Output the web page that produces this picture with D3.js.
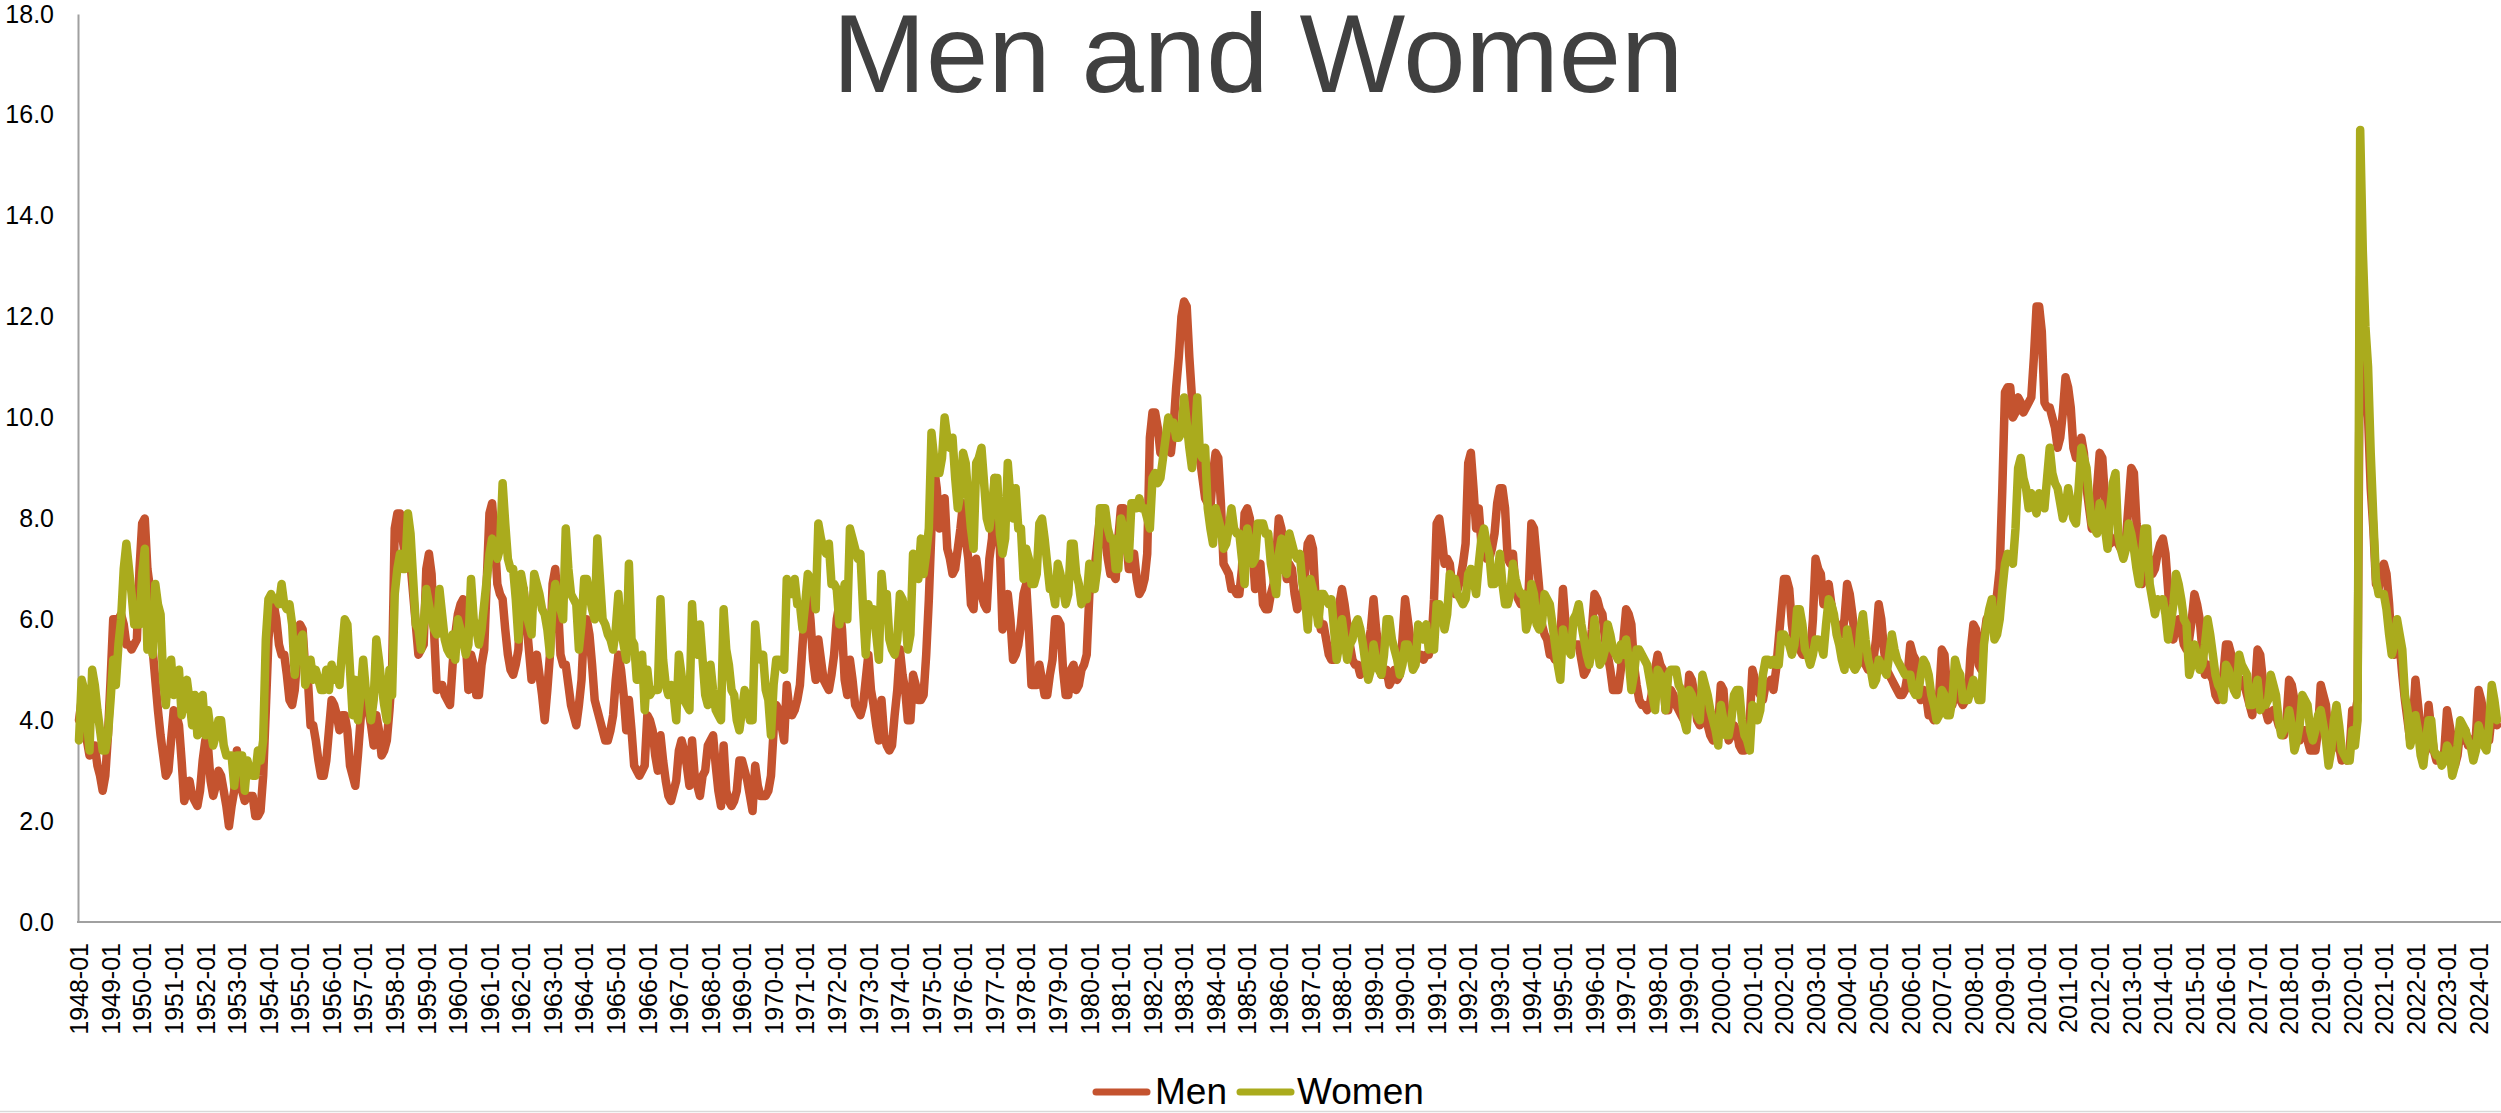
<!DOCTYPE html>
<html>
<head>
<meta charset="utf-8">
<script src="https://cdn.jsdelivr.net/npm/d3@7"></script>
<style>
  html, body { margin: 0; padding: 0; background: #fff; }
  svg { display: block; font-family: "Liberation Sans", Arial, sans-serif; }
</style>
</head>
<body>
<div id="chart"></div>
<script>
// monthly rates, one row per year, starting 1948-01
const menRate = [
  4.0, 4.4, 4.1, 3.6, 3.3, 3.5, 3.5, 3.1, 2.9, 2.6, 2.9, 3.7,   // 1948
  4.8, 6.0, 6.0, 6.0, 6.1, 5.9, 5.5, 5.5, 5.4, 5.5, 5.6, 7.0,
  7.9, 8.0, 7.0, 6.6, 5.4, 4.8, 4.2, 3.7, 3.3, 2.9, 3.0, 3.6,   // 1950
  4.2, 4.1, 3.9, 3.2, 2.4, 2.6, 2.8, 2.5, 2.4, 2.3, 2.6, 3.2,
  3.6, 3.5, 2.8, 2.5, 2.7, 3.0, 2.9, 2.6, 2.3, 1.9, 2.3, 2.6,
  3.4, 2.9, 2.6, 2.4, 2.5, 2.5, 2.5, 2.1, 2.1, 2.2, 2.9, 4.2,
  5.6, 6.3, 6.3, 6.0, 5.5, 5.3, 5.3, 4.9, 4.4, 4.3, 4.6, 5.3,
  5.9, 5.8, 5.0, 4.8, 3.9, 3.9, 3.6, 3.2, 2.9, 2.9, 3.2, 3.8,   // 1955
  4.4, 4.3, 4.1, 3.8, 4.1, 4.1, 3.8, 3.1, 2.9, 2.7, 3.3, 4.0,
  4.6, 4.6, 4.2, 3.9, 3.5, 4.1, 3.8, 3.3, 3.4, 3.6, 4.2, 5.0,
  7.8, 8.1, 8.1, 7.6, 7.2, 7.1, 7.1, 6.5, 5.9, 5.3, 5.4, 5.5,
  7.0, 7.3, 6.9, 5.7, 4.6, 4.7, 4.7, 4.5, 4.4, 4.3, 5.1, 5.7,
  6.1, 6.3, 6.4, 5.6, 4.6, 5.3, 5.1, 4.5, 4.5, 5.1, 5.4, 6.8,   // 1960
  8.1, 8.3, 7.6, 6.7, 6.5, 6.4, 5.8, 5.3, 5.0, 4.9, 5.1, 5.4,
  6.6, 6.6, 6.0, 5.4, 4.8, 5.2, 5.3, 4.9, 4.5, 4.0, 4.6, 5.3,
  6.7, 7.0, 6.3, 5.3, 5.1, 5.1, 4.7, 4.3, 4.1, 3.9, 4.3, 4.8,
  5.9, 6.0, 5.7, 5.1, 4.4, 4.2, 4.0, 3.8, 3.6, 3.6, 3.8, 4.1,
  4.8, 5.3, 5.0, 4.5, 3.8, 4.4, 3.8, 3.1, 3.0, 2.9, 3.0, 3.1,   // 1965
  4.1, 4.0, 3.8, 3.3, 3.0, 3.7, 3.2, 2.8, 2.5, 2.4, 2.6, 2.8,
  3.4, 3.6, 3.4, 3.1, 2.7, 3.6, 2.9, 2.7, 2.5, 2.9, 3.0, 3.5,
  3.6, 3.7, 3.1, 2.6, 2.3, 3.5, 2.6, 2.4, 2.3, 2.4, 2.6, 3.2,
  3.2, 3.0, 2.8, 2.5, 2.2, 3.1, 2.7, 2.5, 2.5, 2.5, 2.6, 2.9,
  3.8, 4.3, 4.2, 3.9, 3.6, 4.7, 4.2, 4.1, 4.2, 4.4, 4.7, 5.5,   // 1970
  6.2, 6.5, 6.0, 5.2, 4.8, 5.6, 5.2, 4.8, 4.7, 4.6, 4.9, 5.3,
  6.0, 6.3, 5.8, 4.8, 4.5, 5.2, 4.8, 4.3, 4.2, 4.1, 4.3, 4.8,
  5.3, 4.6, 4.3, 3.9, 3.6, 4.4, 3.7, 3.5, 3.4, 3.5, 4.1, 4.6,
  5.4, 4.9, 4.6, 4.0, 4.0, 4.9, 4.7, 4.4, 4.4, 4.5, 5.3, 6.4,
  7.8, 9.0, 8.6, 7.8, 7.9, 8.4, 7.4, 7.2, 6.9, 7.0, 7.4, 7.8,   // 1975
  8.3, 7.6, 7.2, 6.3, 6.2, 7.2, 6.8, 6.5, 6.3, 6.2, 7.2, 7.6,
  8.8, 8.0, 7.4, 5.8, 6.0, 6.5, 6.0, 5.2, 5.3, 5.5, 5.9, 6.5,
  6.7, 5.8, 4.7, 4.7, 4.7, 5.1, 4.8, 4.5, 4.5, 4.9, 5.2, 6.0,
  6.0, 5.9, 5.0, 4.5, 4.5, 5.0, 5.1, 4.6, 4.7, 5.0, 5.1, 5.3,
  6.5, 6.8, 7.0, 7.5, 8.0, 7.9, 7.6, 7.2, 6.9, 6.9, 6.8, 7.6,   // 1980
  8.2, 8.2, 7.6, 7.0, 7.0, 7.3, 6.8, 6.5, 6.6, 6.8, 7.3, 9.6,
  10.1, 10.1, 9.8, 9.3, 9.4, 9.6, 9.5, 9.3, 9.8, 10.6, 11.2, 12.0,
  12.3, 12.2, 11.2, 10.4, 9.8, 9.7, 9.2, 8.8, 8.4, 8.3, 8.2, 8.9,
  9.3, 9.2, 8.3, 7.1, 7.0, 6.9, 6.6, 6.6, 6.5, 6.5, 7.0, 8.1,
  8.2, 8.0, 7.4, 6.6, 6.9, 7.1, 6.3, 6.2, 6.2, 6.5, 6.7, 7.2,   // 1985
  8.0, 7.8, 7.4, 6.8, 7.1, 7.0, 6.5, 6.2, 6.3, 6.5, 6.9, 7.5,
  7.6, 7.4, 6.4, 6.1, 5.8, 5.9, 5.6, 5.3, 5.2, 5.2, 5.6, 6.3,
  6.6, 6.3, 5.9, 5.5, 5.2, 5.1, 5.1, 4.9, 5.0, 5.1, 5.5, 5.8,
  6.4, 5.8, 5.4, 4.9, 4.9, 5.0, 4.7, 4.8, 5.0, 4.8, 4.9, 5.6,
  6.4, 6.0, 5.6, 5.4, 5.3, 5.3, 5.3, 5.2, 5.3, 5.3, 5.5, 6.4,   // 1990
  7.9, 8.0, 7.6, 7.1, 7.2, 7.1, 6.6, 6.5, 6.6, 6.8, 7.1, 7.5,
  9.1, 9.3, 8.6, 7.8, 8.2, 7.5, 7.3, 7.2, 7.2, 7.4, 7.7, 8.3,
  8.6, 8.6, 8.2, 7.2, 7.1, 7.3, 6.6, 6.4, 6.3, 6.3, 6.3, 6.6,
  7.9, 7.8, 7.2, 6.6, 5.9, 5.7, 5.6, 5.3, 5.3, 5.2, 5.3, 5.6,
  6.6, 5.9, 5.7, 5.5, 5.5, 5.5, 5.5, 5.2, 4.9, 5.0, 5.3, 5.8,   // 1995
  6.5, 6.4, 6.2, 6.1, 5.6, 5.3, 5.0, 4.6, 4.6, 4.6, 5.0, 5.6,
  6.2, 6.1, 5.9, 5.1, 4.7, 4.4, 4.3, 4.3, 4.2, 4.3, 4.6, 5.0,
  5.3, 5.1, 5.0, 4.2, 4.2, 4.6, 4.5, 4.3, 4.2, 4.1, 4.0, 4.2,
  4.9, 4.8, 4.5, 4.0, 3.9, 4.3, 4.1, 3.9, 3.7, 3.6, 3.7, 3.9,
  4.7, 4.6, 3.9, 3.6, 3.7, 3.9, 3.8, 3.5, 3.4, 3.4, 3.6, 4.0,   // 2000
  5.0, 4.8, 4.6, 4.5, 4.4, 4.7, 4.7, 4.8, 4.6, 5.0, 5.6, 6.2,
  6.8, 6.8, 6.6, 5.9, 5.5, 5.8, 5.4, 5.3, 5.3, 5.3, 5.3, 6.0,
  7.2, 7.0, 6.9, 6.3, 6.5, 6.7, 6.3, 6.0, 5.9, 5.8, 5.7, 6.0,
  6.7, 6.5, 6.1, 5.6, 5.1, 5.3, 5.2, 5.1, 5.0, 5.1, 5.2, 5.6,
  6.3, 6.0, 5.4, 5.0, 4.9, 4.8, 4.7, 4.6, 4.5, 4.5, 4.6, 4.9,   // 2005
  5.5, 5.3, 5.2, 4.6, 4.4, 4.6, 4.5, 4.1, 4.1, 4.0, 4.2, 4.5,
  5.4, 5.3, 4.6, 4.4, 4.3, 4.6, 4.6, 4.4, 4.3, 4.4, 4.5, 5.4,
  5.9, 5.8, 5.1, 5.0, 5.6, 6.0, 6.1, 5.9, 6.1, 6.5, 7.0, 8.6,
  10.5, 10.6, 10.6, 10.0, 10.1, 10.4, 10.3, 10.1, 10.2, 10.3, 10.4, 11.2,
  12.2, 12.2, 11.7, 10.3, 10.2, 10.2, 10.0, 9.8, 9.4, 9.6, 10.1, 10.8,   // 2010
  10.6, 10.2, 9.4, 9.2, 9.4, 9.6, 9.3, 8.6, 8.2, 7.8, 8.0, 8.6,
  9.3, 9.2, 8.4, 7.9, 7.5, 7.6, 7.6, 7.5, 7.4, 7.3, 7.6, 8.3,
  9.0, 8.9, 7.9, 7.3, 6.7, 7.0, 7.1, 7.2, 6.9, 7.0, 7.3, 7.5,
  7.6, 7.3, 6.6, 5.8, 5.6, 5.9, 6.0, 5.8, 5.5, 5.4, 5.6, 6.0,
  6.5, 6.3, 6.0, 5.4, 4.9, 5.1, 4.9, 4.8, 4.5, 4.4, 4.6, 4.9,   // 2015
  5.5, 5.5, 5.3, 4.8, 4.6, 4.7, 4.8, 4.7, 4.5, 4.3, 4.1, 4.6,
  5.4, 5.3, 4.8, 4.2, 4.0, 4.1, 4.2, 4.1, 3.9, 3.8, 3.7, 4.0,
  4.8, 4.7, 4.4, 3.9, 3.6, 3.8, 3.8, 3.6, 3.4, 3.4, 3.4, 3.8,
  4.7, 4.5, 4.3, 3.6, 3.4, 3.5, 3.6, 3.5, 3.2, 3.3, 3.2, 3.4,
  4.2, 4.1, 4.4, 12.8, 12.0, 10.6, 10.0, 8.6, 7.8, 6.7, 6.6, 7.0,   // 2020
  7.1, 6.9, 6.3, 5.4, 5.3, 5.6, 5.5, 4.9, 4.4, 4.0, 3.6, 3.9,
  4.8, 4.3, 3.8, 3.3, 3.4, 4.3, 3.8, 3.4, 3.2, 3.2, 3.2, 3.4,
  4.2, 3.9, 3.6, 3.1, 3.3, 3.8, 3.6, 3.8, 3.5, 3.6, 3.6, 3.7,
  4.6, 4.4, 4.1, 3.6, 3.6, 4.1, 4.0, 3.9                         // 2024
]

const womenRate = [
  3.6, 4.8, 4.6, 4.0, 3.4, 5.0, 4.7, 4.2, 3.8, 3.4, 3.4, 3.7,   // 1948
  4.4, 5.2, 4.7, 5.5, 6.0, 7.0, 7.5, 7.0, 6.5, 5.9, 5.9, 5.9,
  6.9, 7.4, 5.4, 5.9, 5.3, 6.7, 6.3, 6.1, 4.8, 4.3, 5.0, 5.2,   // 1950
  4.5, 4.7, 5.0, 4.1, 4.4, 4.8, 4.4, 3.9, 4.5, 3.7, 4.0, 4.5,
  3.7, 4.2, 3.8, 3.5, 3.7, 4.0, 4.0, 3.5, 3.3, 3.3, 3.3, 2.7,
  3.3, 3.3, 3.3, 2.6, 3.2, 3.0, 2.9, 2.9, 3.4, 3.2, 3.6, 5.6,
  6.4, 6.5, 6.4, 6.4, 6.3, 6.7, 6.3, 6.2, 6.3, 5.9, 4.9, 5.5,
  5.6, 5.7, 4.7, 4.9, 5.2, 4.8, 5.0, 4.8, 4.6, 4.6, 5.0, 4.6,   // 1955
  5.1, 4.8, 5.0, 4.7, 5.4, 6.0, 5.9, 5.0, 4.1, 4.8, 4.0, 4.5,
  5.2, 4.6, 4.5, 4.0, 4.4, 5.6, 5.2, 4.7, 4.3, 4.0, 5.0, 4.5,
  6.5, 7.0, 7.3, 7.0, 7.0, 8.1, 7.7, 6.8, 5.9, 5.8, 5.4, 5.9,
  6.6, 6.3, 6.0, 5.8, 5.7, 6.6, 6.1, 5.6, 5.4, 5.3, 5.7, 5.2,
  6.0, 5.8, 5.6, 5.3, 5.5, 6.8, 6.0, 5.8, 5.5, 5.8, 6.3, 6.8,   // 1960
  7.3, 7.6, 7.4, 7.2, 7.4, 8.7, 7.9, 7.2, 7.0, 7.0, 6.4, 5.6,
  6.9, 6.6, 6.1, 5.9, 5.7, 6.9, 6.7, 6.5, 6.2, 6.1, 5.8, 5.3,
  6.3, 6.7, 6.4, 6.2, 6.0, 7.8, 7.0, 6.5, 6.4, 6.3, 5.4, 5.9,
  6.8, 6.8, 6.5, 6.2, 6.0, 7.6, 6.8, 6.0, 5.9, 5.7, 5.6, 5.4,
  5.8, 6.5, 5.8, 5.5, 5.2, 7.1, 5.6, 5.5, 4.8, 5.0, 5.3, 4.2,   // 1965
  5.0, 4.5, 4.6, 4.6, 4.6, 6.4, 5.2, 4.7, 4.5, 4.7, 4.5, 4.0,
  5.3, 4.9, 4.4, 4.3, 4.2, 6.3, 5.4, 5.3, 5.9, 5.2, 4.5, 4.3,
  5.1, 4.6, 4.2, 4.1, 4.0, 6.2, 5.4, 5.1, 4.6, 4.5, 4.0, 3.8,
  4.2, 4.6, 4.4, 4.0, 4.0, 5.9, 5.3, 5.2, 5.3, 4.6, 4.4, 3.7,
  4.7, 5.2, 5.2, 5.1, 5.0, 6.8, 6.6, 6.5, 6.8, 6.3, 6.3, 5.8,   // 1970
  6.3, 6.9, 6.8, 6.8, 6.2, 7.9, 7.6, 7.4, 7.3, 7.5, 6.7, 6.7,
  6.6, 5.9, 6.3, 6.7, 6.0, 7.8, 7.6, 7.4, 7.2, 7.3, 6.2, 5.3,
  6.3, 6.1, 6.2, 5.7, 5.2, 6.9, 6.3, 6.5, 5.6, 5.4, 5.3, 5.6,
  6.5, 6.4, 6.1, 5.4, 5.7, 7.3, 7.1, 6.8, 7.6, 6.9, 7.3, 7.8,
  9.7, 9.2, 8.9, 8.9, 9.2, 10.0, 9.6, 9.4, 9.6, 8.8, 8.2, 8.5,  // 1975
  9.3, 9.1, 8.4, 7.8, 7.4, 9.1, 9.2, 9.4, 8.7, 8.0, 7.8, 8.2,
  8.8, 8.8, 7.7, 7.3, 7.6, 9.1, 8.4, 8.0, 8.6, 7.8, 7.8, 6.8,
  7.4, 7.2, 6.7, 6.7, 6.9, 7.9, 8.0, 7.6, 7.1, 6.6, 6.6, 6.3,
  7.1, 6.9, 6.6, 6.3, 6.5, 7.5, 7.5, 6.9, 6.7, 6.3, 6.5, 6.4,
  7.1, 7.0, 6.6, 7.0, 8.2, 8.2, 8.2, 7.8, 7.6, 7.6, 7.0, 7.0,   // 1980
  8.0, 7.8, 7.5, 7.2, 8.3, 8.3, 8.2, 8.4, 8.2, 8.2, 8.0, 7.8,
  8.8, 8.9, 8.7, 8.8, 9.2, 9.6, 10.0, 9.8, 9.9, 9.6, 9.6, 9.7,
  10.4, 9.9, 9.4, 9.0, 9.5, 10.4, 9.3, 9.2, 9.4, 8.2, 7.8, 7.5,
  8.2, 8.0, 7.8, 7.4, 7.5, 7.8, 8.2, 7.8, 7.7, 7.7, 7.2, 6.7,
  7.8, 7.5, 7.1, 7.2, 7.9, 7.9, 7.9, 7.7, 7.7, 7.1, 6.8, 6.5,   // 1985
  7.3, 7.6, 7.0, 6.9, 7.7, 7.5, 7.3, 7.2, 7.3, 6.7, 6.4, 5.8,
  6.8, 6.6, 6.3, 5.9, 6.5, 6.5, 6.4, 6.3, 6.4, 5.8, 5.2, 5.5,
  6.0, 5.6, 5.2, 5.5, 5.6, 5.9, 6.0, 5.8, 5.5, 5.1, 4.8, 5.0,
  5.5, 5.2, 5.0, 4.9, 5.3, 6.0, 6.0, 5.6, 5.4, 5.2, 4.9, 5.1,
  5.5, 5.5, 5.3, 5.0, 5.1, 5.9, 5.8, 5.6, 5.9, 5.4, 5.6, 5.4,   // 1990
  6.3, 6.3, 6.1, 5.8, 6.1, 6.9, 6.8, 6.8, 6.5, 6.4, 6.3, 6.4,
  6.9, 7.0, 6.8, 6.5, 7.1, 7.6, 7.8, 7.5, 7.3, 6.7, 6.7, 6.8,
  7.3, 6.7, 6.3, 6.3, 6.5, 7.1, 6.8, 6.6, 6.5, 6.5, 5.8, 6.0,
  6.7, 6.5, 5.9, 5.8, 5.9, 6.5, 6.4, 6.3, 5.9, 5.5, 5.1, 4.8,
  5.8, 5.5, 5.4, 5.3, 6.0, 6.1, 6.3, 5.9, 5.6, 5.3, 5.1, 5.4,   // 1995
  6.0, 5.5, 5.1, 5.2, 5.4, 5.9, 5.7, 5.4, 5.3, 5.2, 5.5, 5.3,
  5.6, 5.2, 4.6, 4.9, 5.4, 5.4, 5.3, 5.2, 5.1, 4.8, 4.5, 4.2,
  5.0, 4.9, 4.8, 4.2, 4.9, 5.0, 5.0, 5.0, 4.7, 4.6, 4.0, 3.8,
  4.6, 4.5, 4.3, 4.1, 4.0, 4.9, 4.7, 4.5, 4.2, 4.0, 3.8, 3.5,
  4.3, 4.0, 3.7, 3.7, 4.0, 4.5, 4.6, 4.6, 4.0, 3.7, 3.6, 3.4,   // 2000
  4.3, 4.2, 4.0, 4.2, 4.9, 5.2, 5.2, 5.1, 5.2, 5.1, 5.1, 5.7,
  5.7, 5.6, 5.5, 5.3, 5.5, 6.2, 6.2, 5.9, 5.4, 5.3, 5.1, 5.3,
  5.6, 5.6, 5.5, 5.3, 5.9, 6.4, 6.3, 6.1, 5.7, 5.5, 5.2, 5.0,
  5.8, 5.5, 5.1, 5.0, 5.1, 5.8, 6.1, 5.6, 5.2, 5.0, 4.7, 4.8,
  5.2, 5.1, 5.0, 4.9, 5.3, 5.7, 5.4, 5.2, 5.1, 5.0, 4.9, 4.9,   // 2005
  4.9, 4.6, 4.5, 4.5, 4.9, 5.2, 5.1, 4.9, 4.5, 4.3, 4.0, 4.1,
  4.6, 4.5, 4.1, 4.1, 4.4, 5.2, 5.0, 4.9, 4.4, 4.4, 4.4, 4.6,
  4.8, 4.6, 4.4, 4.4, 5.5, 5.9, 6.2, 6.4, 5.6, 5.7, 6.0, 6.6,
  7.1, 7.3, 7.2, 7.1, 7.8, 9.0, 9.2, 8.8, 8.6, 8.2, 8.5, 8.3,
  8.1, 8.5, 8.4, 8.2, 8.8, 9.4, 8.9, 8.7, 8.6, 8.3, 8.0, 8.2,   // 2010
  8.6, 8.3, 8.0, 7.9, 8.6, 9.4, 9.2, 9.0, 8.4, 7.9, 7.8, 7.7,
  8.3, 8.1, 7.8, 7.4, 8.2, 8.7, 8.9, 7.7, 7.4, 7.2, 7.4, 7.9,
  7.7, 7.4, 7.0, 6.7, 7.2, 7.8, 7.8, 6.7, 6.4, 6.1, 6.4, 6.3,
  6.4, 6.1, 5.6, 5.9, 6.3, 6.9, 6.7, 6.4, 6.0, 5.9, 4.9, 5.1,
  5.5, 5.3, 5.0, 5.1, 5.5, 6.0, 5.7, 5.3, 4.9, 4.7, 4.6, 4.4,   // 2015
  5.1, 5.0, 4.8, 4.6, 4.5, 5.3, 5.1, 5.0, 4.9, 4.3, 4.3, 4.6,
  4.8, 4.2, 4.3, 4.3, 4.4, 4.9, 4.7, 4.5, 4.0, 3.7, 3.8, 3.9,
  4.2, 3.9, 3.4, 3.6, 3.9, 4.5, 4.4, 4.3, 3.8, 3.6, 3.8, 4.1,
  4.2, 3.9, 3.6, 3.1, 3.4, 4.0, 4.3, 3.9, 3.4, 3.3, 3.2, 3.2,
  3.8, 3.5, 4.0, 15.7, 13.3, 11.8, 11.0, 9.3, 8.0, 6.8, 6.5, 6.5,   // 2020
  6.5, 6.2, 5.7, 5.3, 5.5, 6.0, 5.7, 5.4, 4.5, 4.2, 3.5, 3.7,
  4.1, 3.8, 3.3, 3.1, 3.6, 4.0, 4.0, 3.4, 3.3, 3.3, 3.1, 3.2,
  3.5, 3.4, 2.9, 3.1, 3.5, 4.0, 3.9, 3.8, 3.6, 3.5, 3.2, 3.4,
  3.9, 3.7, 3.5, 3.4, 3.9, 4.7, 4.4, 4.0                         // 2024
]

const monthLabels = []
for (let yr = 1948; yr <= 2024; yr++) {
  for (let m = 1; m <= 12; m++) monthLabels.push(`${yr}-${String(m).padStart(2, "0")}`)
}
const categories = monthLabels.slice(0, menRate.length)
const xTickLabels = categories.filter(c => c.endsWith("-01"))
const yTicks = [0, 2, 4, 6, 8, 10, 12, 14, 16, 18]

const seriesNames = ["Men", "Women"]
const seriesColors = ["#C4532F", "#AAAB1D"]

const width = 2501
const height = 1113
const plotLeft = 79
const plotRight = 2497
const plotTop = 14
const plotBottom = 922

const svg = d3.select("#chart")
  .append("svg")
  .attr("width", width)
  .attr("height", height)

svg.append("rect")
  .attr("width", width)
  .attr("height", height)
  .attr("fill", "#fff")

// scales
const xScale = d3.scalePoint()
  .domain(categories)
  .range([plotLeft, plotRight])

const yScale = d3.scaleLinear()
  .domain([0, 18])
  .range([plotBottom, plotTop])

// title
svg.append("text")
  .attr("x", 1258)
  .attr("y", 92)
  .attr("text-anchor", "middle")
  .attr("font-size", "112px")
  .attr("fill", "#404040")
  .text("Men and Women")

// y axis
const yAxis = d3.axisLeft(yScale)
  .tickValues(yTicks)
  .tickFormat(d3.format(".1f"))
  .tickSize(0)
  .tickPadding(24)

const yG = svg.append("g")
  .attr("transform", `translate(${plotLeft - 1}, 0)`)
  .call(yAxis)
yG.select(".domain").attr("stroke", "#A0A0A0").attr("stroke-width", 2)
yG.selectAll("text")
  .attr("font-size", "25px")
  .attr("font-family", "Liberation Sans, Arial, sans-serif")
  .attr("fill", "#000")

// x axis
const xAxis = d3.axisBottom(xScale)
  .tickValues(xTickLabels)
  .tickSize(0)

const xG = svg.append("g")
  .attr("transform", `translate(0, ${plotBottom})`)
  .call(xAxis)
xG.select(".domain")
  .attr("d", `M${plotLeft - 2},0H${width}`)
  .attr("stroke", "#A0A0A0")
  .attr("stroke-width", 2)
xG.selectAll("text")
  .attr("transform", "rotate(-90)")
  .attr("text-anchor", "end")
  .attr("x", -21)
  .attr("y", 0)
  .attr("dy", "0.35em")
  .attr("font-size", "25px")
  .attr("font-family", "Liberation Sans, Arial, sans-serif")
  .attr("fill", "#000")

// lines
const lineGenerator = d3.line()
  .x((d, i) => xScale(categories[i]))
  .y(d => yScale(d))

const seriesData = [menRate, womenRate]
seriesData.forEach((values, k) => {
  svg.append("path")
    .datum(values)
    .attr("d", lineGenerator)
    .attr("fill", "none")
    .attr("stroke", seriesColors[k])
    .attr("stroke-width", 8.5)
    .attr("stroke-linejoin", "round")
    .attr("stroke-linecap", "round")
})

// legend
const legendItems = [
  {x: 1093, textX: 1155},
  {x: 1237, textX: 1297}
]
legendItems.forEach((item, k) => {
  svg.append("line")
    .attr("x1", item.x + 3)
    .attr("x2", item.x + 54)
    .attr("y1", 1092)
    .attr("y2", 1092)
    .attr("stroke", seriesColors[k])
    .attr("stroke-width", 7)
    .attr("stroke-linecap", "round")
  svg.append("text")
    .attr("x", item.textX)
    .attr("y", 1104)
    .attr("font-size", "37px")
    .attr("fill", "#000")
    .text(seriesNames[k])
})

// chart border at the bottom edge
svg.append("line")
  .attr("x1", 0)
  .attr("x2", width)
  .attr("y1", 1111.5)
  .attr("y2", 1111.5)
  .attr("stroke", "#D9D9D9")
  .attr("stroke-width", 1.5)
</script>
</body>
</html>
